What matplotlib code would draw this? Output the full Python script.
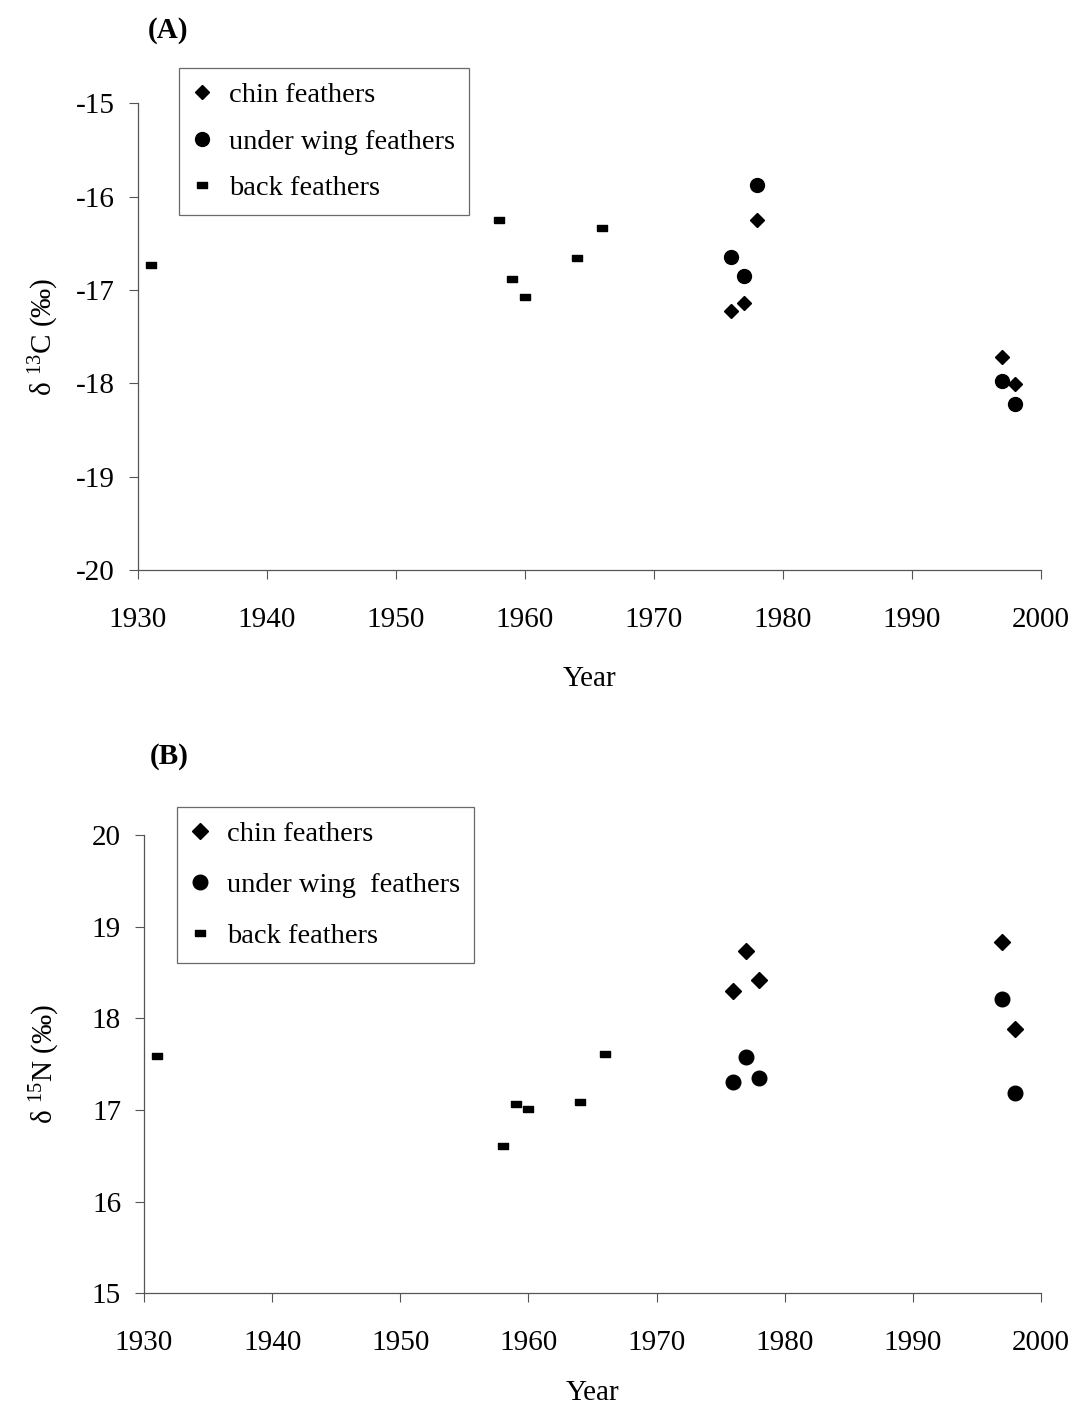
import matplotlib
matplotlib.use('Agg')
import matplotlib.pyplot as plt
from matplotlib.ticker import FixedLocator

plt.rcParams['font.family'] = ['Liberation Serif', 'DejaVu Serif']
plt.rcParams['mathtext.fontset'] = 'custom'
plt.rcParams['mathtext.rm'] = 'Liberation Serif'
plt.rcParams['mathtext.it'] = 'Liberation Serif:italic'

# sample years
years_back = [1931, 1958, 1959, 1960, 1964, 1966]
years_chin = [1976, 1977, 1978, 1997, 1998]
years_wing = [1976, 1977, 1978, 1997, 1998]

# delta 13C
c13_back = [-16.73, -16.25, -16.88, -17.07, -16.66, -16.34]
c13_chin = [-17.22, -17.14, -16.25, -17.72, -18.01]
c13_wing = [-16.65, -16.85, -15.88, -17.97, -18.22]

# delta 15N
n15_back = [17.59, 16.61, 17.07, 17.01, 17.09, 17.61]
n15_chin = [18.30, 18.74, 18.42, 18.83, 17.88]
n15_wing = [17.31, 17.58, 17.35, 18.21, 17.19]

x_ticks = [1930, 1940, 1950, 1960, 1970, 1980, 1990, 2000]
c13_ticks = [-20, -19, -18, -17, -16, -15]
n15_ticks = [15, 16, 17, 18, 19, 20]

# small flat rectangle used for back feathers
DASH = [(-1, -0.55), (1, -0.55), (1, 0.55), (-1, 0.55), (-1, -0.55)]

FS = 21
SPINE = '#555555'


def stylePanel(ax, yticks, ylabels, ylabel, ylab_x, xpad):
    ax.set_xlim(1930, 2000)
    ax.set_ylim(yticks[0], yticks[-1])
    ax.spines['top'].set_visible(False)
    ax.spines['right'].set_visible(False)
    for s in ('left', 'bottom'):
        ax.spines[s].set_color(SPINE)
        ax.spines[s].set_linewidth(0.9)
    ax.xaxis.set_major_locator(FixedLocator(x_ticks))
    ax.set_xticklabels([str(x) for x in x_ticks])
    ax.yaxis.set_major_locator(FixedLocator(yticks))
    ax.set_yticklabels(ylabels)
    ax.tick_params(axis='both', direction='out', length=6.5, width=0.8,
                   color=SPINE, labelsize=FS)
    ax.tick_params(axis='x', pad=20)
    ax.tick_params(axis='y', pad=10)
    ax.set_xlabel('Year', fontsize=FS, labelpad=xpad)
    ax.set_ylabel(ylabel, fontsize=FS)
    ax.yaxis.set_label_coords(ylab_x, 0.5)


def addLegend(ax, anchor, labels, spacing):
    leg = ax.legend(labels=labels, loc='upper left', bbox_to_anchor=anchor,
                    bbox_transform=ax.figure.transFigure, fontsize=20.5,
                    frameon=True, fancybox=False, shadow=False,
                    handlelength=0.6, handletextpad=0.65, borderpad=0.5,
                    labelspacing=spacing, borderaxespad=0)
    leg.get_frame().set_edgecolor('#444444')
    leg.get_frame().set_linewidth(0.9)
    return leg


fig = plt.figure(figsize=(10.78, 14.13), dpi=100)

# panel A
axA = fig.add_axes([0.128, 0.5966, 0.8377, 0.3303])
axA.plot(years_chin, c13_chin, 'D', color='black', ms=7.2, ls='none')
axA.plot(years_wing, c13_wing, 'o', color='black', ms=10, ls='none')
axA.plot(years_back, c13_back, marker=DASH, color='black', ms=7.5, ls='none')
stylePanel(axA, c13_ticks, ['-20', '-19', '-18', '-17', '-16', '-15'],
           r'δ $^{13}$C $\it{(‰)}$', -0.085, 24)
addLegend(axA, (179 / 1078, 1 - 68 / 1413),
          ['chin feathers', 'under wing feathers', 'back feathers'], 0.72)
fig.text(148 / 1078, 1 - 30 / 1413, '(A)', fontsize=FS, fontweight='bold',
         va='center', ha='left')

# panel B
axB = fig.add_axes([0.1336, 0.0847, 0.832, 0.3243])
axB.plot(years_chin, n15_chin, 'D', color='black', ms=8, ls='none')
axB.plot(years_wing, n15_wing, 'o', color='black', ms=10.5, ls='none')
axB.plot(years_back, n15_back, marker=DASH, color='black', ms=7.5, ls='none')
stylePanel(axB, n15_ticks, [str(v) for v in n15_ticks],
           r'δ $^{15}$N $\it{(‰)}$', -0.092, 17)
addLegend(axB, (177 / 1078, 1 - 807 / 1413),
          ['chin feathers', 'under wing  feathers', 'back feathers'], 0.88)
fig.text(150 / 1078, 1 - 757 / 1413, '(B)', fontsize=FS, fontweight='bold',
         va='center', ha='left')

plt.savefig('out.png', dpi=100)
